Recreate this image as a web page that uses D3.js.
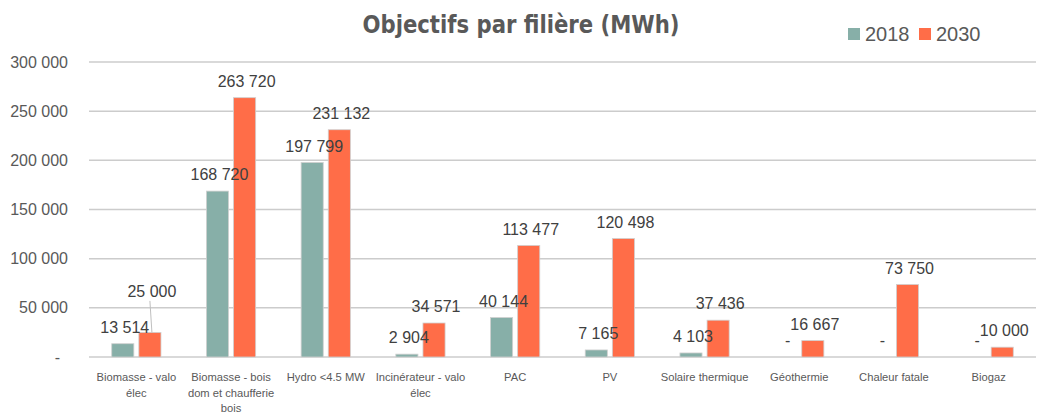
<!DOCTYPE html>
<html>
<head>
<meta charset="utf-8">
<script src="https://cdn.jsdelivr.net/npm/d3@7"></script>
<style>
  body { margin: 0; background: #fff; }
  .axislabel { font-family: "Liberation Sans", Arial, sans-serif; font-size: 16px; fill: #595959; }
  .catlabel { font-family: "Liberation Sans", Arial, sans-serif; font-size: 11.2px; fill: #595959; }
  .datalabel { font-family: "Liberation Sans", Arial, sans-serif; font-size: 16px; fill: #404040; }
</style>
</head>
<body>
<div id="chart"></div>
<script>
// Daten
var categories = ["Biomasse - valo élec", "Biomasse - bois dom et chaufferie bois", "Hydro <4.5 MW",
  "Incinérateur - valo élec", "PAC", "PV", "Solaire thermique", "Géothermie", "Chaleur fatale", "Biogaz"];
var series = ["2018", "2030"];
var values2018 = [13514, 168720, 197799, 2904, 40144, 7165, 4103, 0, 0, 0];
var values2030 = [25000, 263720, 231132, 34571, 113477, 120498, 37436, 16667, 73750, 10000];
var yTicks = [0, 50000, 100000, 150000, 200000, 250000, 300000];
var colors = ["#87AFA8", "#FF6D48"];

var width = 1038;
var height = 414;
var plotLeft = 89, plotRight = 1036, plotTop = 62, plotBottom = 357;

var svg = d3.select("#chart")
  .append("svg")
  .attr("width", width)
  .attr("height", height);

// Zahlenformat mit Leerzeichen
function fmt(v) {
  if (v === 0) return "-";
  return d3.format(",")(v).replace(/,/g, " ");
}

var x0 = d3.scaleBand().domain(categories).range([plotLeft, plotRight]).paddingInner(0.48).paddingOuter(0.24);
var x1 = d3.scaleBand().domain(series).range([0, x0.bandwidth()]).paddingInner(0.185);
var y = d3.scaleLinear().domain([0, 300000]).range([plotBottom, plotTop]);

// Gitterlinien
svg.selectAll("line.grid")
  .data(yTicks)
  .enter()
  .append("line")
  .attr("class", "grid")
  .attr("x1", plotLeft)
  .attr("x2", plotRight)
  .attr("y1", function(d) { return y(d); })
  .attr("y2", function(d) { return y(d); })
  .attr("stroke", "#cccccc")
  .attr("stroke-width", 1.5);

// Y Achse
svg.selectAll("text.ytick")
  .data(yTicks)
  .enter()
  .append("text")
  .attr("class", "axislabel")
  .attr("x", function(d) { return d === 0 ? 60 : 68; })
  .attr("y", function(d) { return y(d); })
  .attr("dy", "0.35em")
  .attr("text-anchor", "end")
  .text(fmt);

// Balken
var rows = categories.map(function(c, i) {
  return { cat: c, vals: [values2018[i], values2030[i]] };
});

var groups = svg.selectAll("g.grp")
  .data(rows)
  .enter()
  .append("g")
  .attr("class", "grp")
  .attr("transform", function(d) { return "translate(" + x0(d.cat) + ",0)"; });

groups.selectAll("rect")
  .data(function(d) {
    return d.vals.map(function(v, k) { return { s: series[k], v: v, k: k }; })
      .filter(function(e) { return e.v > 0; });
  })
  .enter()
  .append("rect")
  .attr("x", function(d) { return x1(d.s); })
  .attr("y", function(d) { return y(d.v); })
  .attr("width", x1.bandwidth())
  .attr("height", function(d) { return y(0) - y(d.v); })
  .attr("fill", function(d) { return colors[d.k]; })
  .attr("stroke", "#d0d0d0")
  .attr("stroke-width", 0.8);

// Datenbeschriftung (25 000 manuell verschoben, mit Linie)
var moved = { cat: categories[0], s: "2030", dy: -25 };
groups.each(function(row) {
  var g = d3.select(this);
  row.vals.forEach(function(v, k) {
    var s = series[k];
    var cx = x1(s) + x1.bandwidth() / 2 + 2;
    var cy = y(v) - 16.5;
    var isMoved = row.cat === moved.cat && s === moved.s;
    if (isMoved) {
      g.append("line")
        .attr("x1", cx - 2)
        .attr("y1", cy + moved.dy + 10)
        .attr("x2", cx)
        .attr("y2", y(v))
        .attr("stroke", "#bfbfbf")
        .attr("stroke-width", 1);
      cy = cy + moved.dy;
    }
    g.append("text")
      .attr("class", "datalabel")
      .attr("x", cx)
      .attr("y", cy)
      .attr("dy", "0.35em")
      .attr("text-anchor", "middle")
      .text(fmt(v));
  });
});

// Kategorien mit Umbruch
function wrap(textSel, maxW) {
  textSel.each(function() {
    var t = d3.select(this);
    var words = t.text().split(/\s+/);
    var xx = t.attr("x");
    t.text(null);
    var line = [];
    var tspan = t.append("tspan").attr("x", xx).attr("dy", 0);
    words.forEach(function(w) {
      line.push(w);
      tspan.text(line.join(" "));
      if (tspan.node().getComputedTextLength() > maxW && line.length > 1) {
        line.pop();
        tspan.text(line.join(" "));
        line = [w];
        tspan = t.append("tspan").attr("x", xx).attr("dy", 15.5).text(w);
      }
    });
  });
}

svg.selectAll("text.cat")
  .data(categories)
  .enter()
  .append("text")
  .attr("class", "catlabel")
  .attr("x", function(d) { return x0(d) + x0.bandwidth() / 2; })
  .attr("y", 381)
  .attr("text-anchor", "middle")
  .text(function(d) { return d; })
  .call(wrap, 94);

// Titel
svg.append("text")
  .attr("x", 521)
  .attr("y", 33)
  .attr("text-anchor", "middle")
  .attr("font-family", "'Liberation Sans Narrow', 'DejaVu Sans Condensed', sans-serif")
  .attr("font-weight", "bold")
  .attr("font-size", 25)
  .attr("fill", "#595959")
  .attr("textLength", 317)
  .attr("lengthAdjust", "spacingAndGlyphs")
  .text("Objectifs par filière (MWh)");

// Legende
var legX = [848, 919];
series.forEach(function(s, k) {
  svg.append("rect")
    .attr("x", legX[k])
    .attr("y", 28)
    .attr("width", 12)
    .attr("height", 12)
    .attr("fill", colors[k]);
  svg.append("text")
    .attr("x", legX[k] + 17)
    .attr("y", 34)
    .attr("dy", "0.35em")
    .attr("font-family", "'Liberation Sans', Arial, sans-serif")
    .attr("font-size", 20)
    .attr("fill", "#595959")
    .text(s);
});
</script>
</body>
</html>
